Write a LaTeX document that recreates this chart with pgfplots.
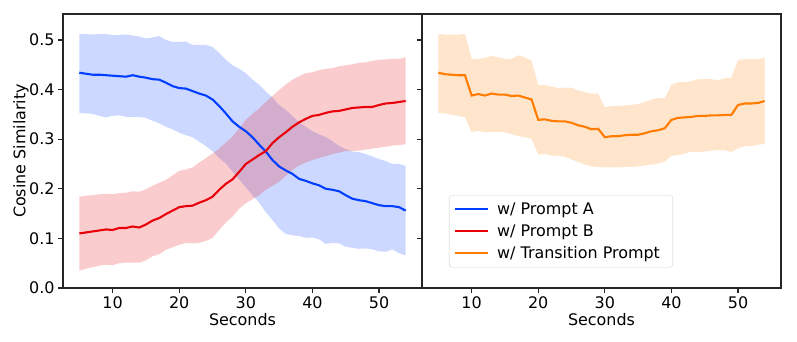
\documentclass[border=0pt]{standalone}
\usepackage{fontspec}
\setmainfont{DejaVu Sans}
\usepackage{pgfplots}
\usepackage{pgfplotstable}
\pgfplotsset{compat=1.18}
\usepgfplotslibrary{fillbetween}

\definecolor{cblue}{RGB}{2,62,255}
\definecolor{cred}{RGB}{232,0,11}
\definecolor{corange}{RGB}{255,124,0}

% t  mean  lower  upper
\pgfplotstableread{
t m lo hi
5 0.434 0.353 0.512
6 0.432 0.352 0.512
7 0.430 0.351 0.511
8 0.430 0.347 0.512
9 0.429 0.344 0.512
10 0.428 0.347 0.510
11 0.427 0.348 0.510
12 0.426 0.345 0.511
13 0.429 0.345 0.509
14 0.426 0.345 0.507
15 0.424 0.343 0.503
16 0.421 0.337 0.505
17 0.420 0.332 0.508
18 0.414 0.325 0.500
19 0.407 0.320 0.496
20 0.403 0.313 0.496
21 0.402 0.308 0.497
22 0.397 0.304 0.490
23 0.392 0.295 0.490
24 0.388 0.286 0.490
25 0.380 0.276 0.486
26 0.367 0.262 0.474
27 0.352 0.251 0.460
28 0.336 0.235 0.449
29 0.325 0.219 0.442
30 0.316 0.203 0.433
31 0.304 0.187 0.420
32 0.289 0.172 0.410
33 0.275 0.153 0.396
34 0.258 0.137 0.384
35 0.245 0.120 0.369
36 0.237 0.109 0.359
37 0.230 0.106 0.347
38 0.220 0.105 0.334
39 0.216 0.101 0.325
40 0.211 0.102 0.316
41 0.207 0.098 0.310
42 0.200 0.089 0.304
43 0.198 0.091 0.296
44 0.195 0.090 0.286
45 0.187 0.083 0.280
46 0.180 0.081 0.275
47 0.177 0.079 0.274
48 0.175 0.080 0.270
49 0.171 0.078 0.265
50 0.167 0.074 0.260
51 0.165 0.073 0.256
52 0.165 0.078 0.250
53 0.163 0.070 0.250
54 0.156 0.066 0.246
}\dataA

\pgfplotstableread{
t m lo hi
5 0.110 0.035 0.184
6 0.112 0.039 0.186
7 0.114 0.042 0.187
8 0.116 0.045 0.189
9 0.118 0.047 0.190
10 0.117 0.046 0.189
11 0.121 0.050 0.191
12 0.121 0.051 0.192
13 0.124 0.051 0.195
14 0.122 0.051 0.194
15 0.128 0.056 0.199
16 0.136 0.064 0.206
17 0.141 0.068 0.212
18 0.149 0.077 0.218
19 0.156 0.082 0.227
20 0.163 0.087 0.236
21 0.165 0.091 0.239
22 0.166 0.090 0.243
23 0.172 0.091 0.253
24 0.177 0.095 0.262
25 0.184 0.101 0.271
26 0.198 0.117 0.281
27 0.210 0.132 0.293
28 0.219 0.144 0.305
29 0.234 0.160 0.322
30 0.250 0.171 0.339
31 0.259 0.179 0.351
32 0.268 0.187 0.362
33 0.276 0.198 0.375
34 0.292 0.206 0.387
35 0.304 0.214 0.399
36 0.314 0.226 0.410
37 0.325 0.238 0.420
38 0.334 0.247 0.427
39 0.341 0.253 0.433
40 0.347 0.258 0.435
41 0.349 0.262 0.439
42 0.353 0.266 0.442
43 0.356 0.270 0.443
44 0.357 0.273 0.447
45 0.360 0.276 0.449
46 0.363 0.276 0.451
47 0.364 0.277 0.454
48 0.365 0.279 0.455
49 0.365 0.281 0.458
50 0.369 0.283 0.460
51 0.372 0.285 0.461
52 0.373 0.287 0.462
53 0.375 0.288 0.462
54 0.377 0.290 0.465
}\dataB

\pgfplotstableread{
t m lo hi
5 0.434 0.353 0.512
6 0.431 0.352 0.511
7 0.430 0.349 0.511
8 0.429 0.347 0.511
9 0.429 0.344 0.512
10 0.388 0.314 0.462
11 0.391 0.317 0.462
12 0.388 0.314 0.464
13 0.392 0.315 0.468
14 0.390 0.315 0.465
15 0.390 0.314 0.462
16 0.387 0.310 0.462
17 0.388 0.306 0.469
18 0.384 0.304 0.465
19 0.380 0.301 0.458
20 0.339 0.269 0.409
21 0.340 0.271 0.409
22 0.337 0.267 0.406
23 0.336 0.267 0.403
24 0.336 0.265 0.404
25 0.333 0.259 0.404
26 0.328 0.254 0.398
27 0.325 0.249 0.395
28 0.320 0.245 0.392
29 0.321 0.244 0.392
30 0.304 0.243 0.364
31 0.306 0.243 0.367
32 0.306 0.243 0.367
33 0.308 0.244 0.368
34 0.309 0.244 0.369
35 0.309 0.245 0.371
36 0.312 0.247 0.375
37 0.316 0.249 0.380
38 0.318 0.251 0.383
39 0.322 0.255 0.383
40 0.339 0.266 0.410
41 0.343 0.268 0.415
42 0.344 0.271 0.415
43 0.345 0.275 0.417
44 0.347 0.274 0.421
45 0.347 0.275 0.421
46 0.348 0.277 0.421
47 0.348 0.278 0.419
48 0.349 0.278 0.423
49 0.349 0.274 0.424
50 0.369 0.282 0.460
51 0.372 0.286 0.461
52 0.372 0.286 0.462
53 0.373 0.289 0.461
54 0.377 0.290 0.465
}\dataT

\newcommand\fs{\fontsize{16}{19}\selectfont}

\pgfplotsset{
  panel/.style={
    width=359bp, height=274bp, scale only axis,
    xmin=2.55, xmax=56.45, ymin=0, ymax=0.5524,
    xtick={10,20,30,40,50}, ytick={0,0.1,0.2,0.3,0.4,0.5},
    tick align=outside, major tick length=4.9bp,
    tick style={line width=1.1bp, black!85},
    axis line style={line width=1.1bp, black!85},
    tick label style={font=\fs},
    label style={font=\fs},
    /pgf/number format/assume math mode=true,
    yticklabel style={/pgf/number format/.cd, fixed, fixed zerofill, precision=1},
    xtick pos=bottom, ytick pos=left,
    xlabel={Seconds},
    xlabel style={at={(axis description cs:0.5,0)}, anchor=base, yshift=-37bp},
    legend image code/.code={\draw[#1, line width=2bp] (0bp,0bp) -- (33bp,0bp);},
  },
  mean/.style={line width=2.1bp},
  band/.style={draw=none, fill opacity=0.2},
}

\begin{document}
\begin{tikzpicture}
\begin{axis}[panel,
    ylabel={Cosine Similarity},
    ylabel style={at={(axis description cs:-0.117,0.5)}, anchor=center, rotate=0},
]
\addplot[draw=none, name path=Ahi, forget plot] table[x=t, y=hi] {\dataA};
\addplot[draw=none, name path=Alo, forget plot] table[x=t, y=lo] {\dataA};
\addplot[band, fill=cblue, forget plot] fill between[of=Ahi and Alo];
\addplot[draw=none, name path=Bhi, forget plot] table[x=t, y=hi] {\dataB};
\addplot[draw=none, name path=Blo, forget plot] table[x=t, y=lo] {\dataB};
\addplot[band, fill=cred, forget plot] fill between[of=Bhi and Blo];
\addplot[mean, cblue] table[x=t, y=m] {\dataA};
\addplot[mean, cred] table[x=t, y=m] {\dataB};
\end{axis}

\begin{axis}[panel, at={(359bp,0)}, yticklabels={},
    legend style={at={(0.075,0.075)}, anchor=south west, draw=black!18,
      rounded corners=3bp, fill=white, fill opacity=0.8, text opacity=1,
      font=\fs, inner xsep=5bp, inner ysep=5bp, row sep=5bp,
      nodes={inner xsep=8bp}},
    legend cell align=left,
]
\addlegendimage{cblue}
\addlegendentry{w/ Prompt A}
\addlegendimage{cred}
\addlegendentry{w/ Prompt B}
\addplot[draw=none, name path=Thi, forget plot] table[x=t, y=hi] {\dataT};
\addplot[draw=none, name path=Tlo, forget plot] table[x=t, y=lo] {\dataT};
\addplot[band, fill=corange, forget plot] fill between[of=Thi and Tlo];
\addplot[mean, corange] table[x=t, y=m] {\dataT};
\addlegendentry{w/ Transition Prompt}
\end{axis}
\pgfresetboundingbox
\path[use as bounding box] (-63bp,-54bp) rectangle (734bp,288bp);
\end{tikzpicture}
\end{document}
